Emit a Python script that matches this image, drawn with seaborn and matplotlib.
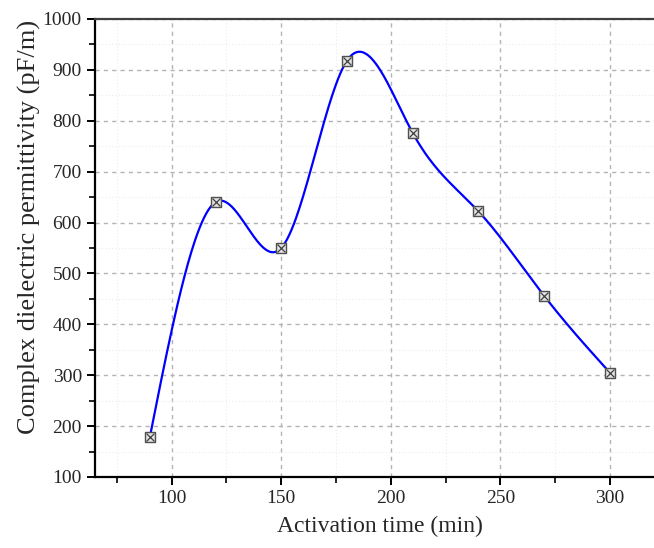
import numpy as np
import pandas as pd
import matplotlib
matplotlib.use("Agg")
import matplotlib.pyplot as plt
import seaborn as sns
from matplotlib.ticker import MultipleLocator

# datos
tiempo = [90, 120, 150, 180, 210, 240, 270, 300]
permitividad = [178, 640, 550, 918, 776, 622, 456, 305]

x_label = 'Activation time (min)'
y_label = 'Complex dielectric permittivity (pF/m)'


# spline cubico natural (la linea de conexion tipo "spline")
def spline_natural(x, y, xs):
    x = np.asarray(x, float)
    y = np.asarray(y, float)
    n = len(x)
    h = np.diff(x)
    A = np.zeros((n, n))
    b = np.zeros(n)
    A[0, 0] = 1
    A[-1, -1] = 1
    for i in range(1, n - 1):
        A[i, i - 1] = h[i - 1]
        A[i, i] = 2 * (h[i - 1] + h[i])
        A[i, i + 1] = h[i]
        b[i] = 3 * ((y[i + 1] - y[i]) / h[i] - (y[i] - y[i - 1]) / h[i - 1])
    c = np.linalg.solve(A, b)
    idx = np.clip(np.searchsorted(x, xs) - 1, 0, n - 2)
    dx = xs - x[idx]
    hi = h[idx]
    bb = (y[idx + 1] - y[idx]) / hi - hi * (2 * c[idx] + c[idx + 1]) / 3
    d = (c[idx + 1] - c[idx]) / (3 * hi)
    return y[idx] + bb * dx + c[idx] * dx ** 2 + d * dx ** 3


xs = np.linspace(tiempo[0], tiempo[-1], 400)
df_curva = pd.DataFrame({'x': xs, 'y': spline_natural(tiempo, permitividad, xs)})
df = pd.DataFrame({'x': tiempo, 'y': permitividad})

sns.set_style('ticks')
plt.rcParams['font.family'] = ['Liberation Serif', 'DejaVu Serif']

fig = plt.figure(figsize=(6.54, 5.48), dpi=100)
ax = fig.add_axes([0.1453, 0.1296, 0.871, 0.8358])

# rejilla
ax.xaxis.set_major_locator(MultipleLocator(50))
ax.xaxis.set_minor_locator(MultipleLocator(25))
ax.yaxis.set_major_locator(MultipleLocator(100))
ax.yaxis.set_minor_locator(MultipleLocator(50))
ax.grid(which='major', color='#b4b4b4', linestyle=(0, (3, 3)), linewidth=1)
ax.grid(which='minor', color='#ececec', linestyle=(0, (1, 2)), linewidth=0.8)
ax.set_axisbelow(True)

sns.lineplot(data=df_curva, x='x', y='y', color='#0000ff', linewidth=1.6, ax=ax)
sns.scatterplot(data=df, x='x', y='y', marker='s', s=60, color='#e2e2e2',
                edgecolor='#505050', linewidth=1.0, zorder=3, ax=ax)
sns.scatterplot(data=df, x='x', y='y', marker='x', s=32, color='#404040',
                linewidth=0.9, zorder=4, ax=ax)

ax.set_xlim(65, 325)
ax.set_ylim(100, 1000)
ax.set_xlabel(x_label, fontsize=17, labelpad=6)
ax.set_ylabel(y_label, fontsize=19)
ax.yaxis.set_label_coords(-0.094, 0.546)

for lado in ['left', 'bottom']:
    ax.spines[lado].set_linewidth(1.6)
    ax.spines[lado].set_color('black')
ax.spines['top'].set_linewidth(1.6)
ax.spines['top'].set_color('#404040')
ax.spines['right'].set_visible(False)

ax.tick_params(which='major', direction='out', length=6, width=1.4,
               labelsize=14, color='black', top=False, right=False)
ax.tick_params(which='minor', direction='out', length=4, width=1.2,
               color='black', top=False, right=False)

fig.savefig('out.png', dpi=100)
